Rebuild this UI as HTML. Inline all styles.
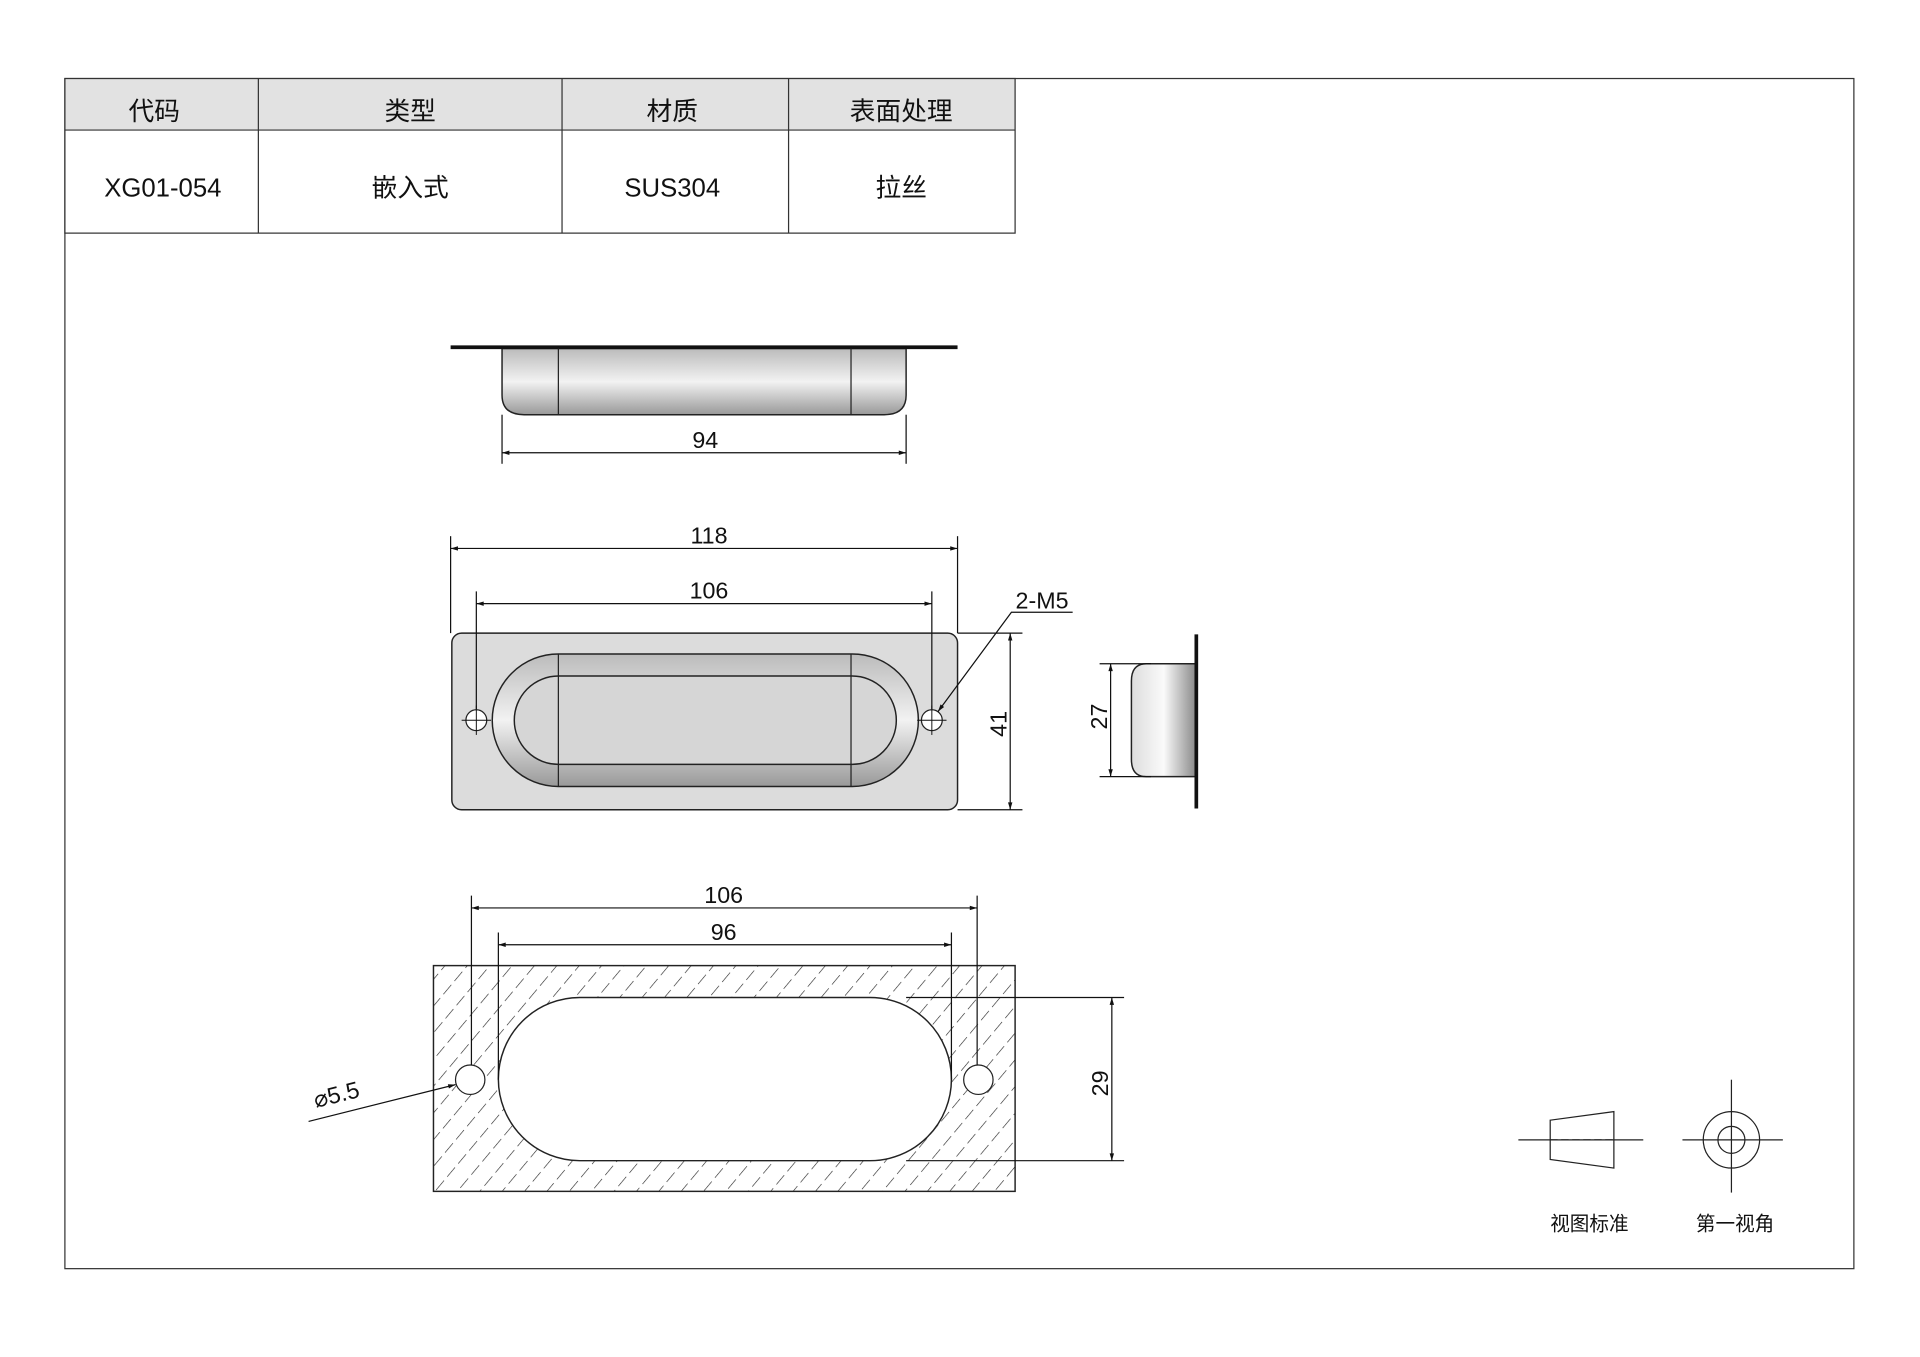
<!DOCTYPE html>
<html><head><meta charset="utf-8">
<style>
html,body{margin:0;padding:0;background:#fff;}
svg{display:block;}
text{font-family:"Liberation Sans","Noto Sans CJK SC",sans-serif;fill:#111;}
</style></head>
<body>
<svg width="1920" height="1357" viewBox="0 0 1568 1106" preserveAspectRatio="none" xmlns="http://www.w3.org/2000/svg">
<defs>
<pattern id="hatch" patternUnits="userSpaceOnUse" width="14" height="14" patternTransform="rotate(40)">
<line x1="0" y1="0" x2="0" y2="14" stroke="#222" stroke-width="1" stroke-dasharray="10 4"/>
</pattern>
<linearGradient id="g1" x1="0" y1="0" x2="0" y2="1">
<stop offset="0" stop-color="#bbb"/><stop offset="0.5" stop-color="#f2f2f2"/><stop offset="1" stop-color="#999"/>
</linearGradient>
<linearGradient id="g2" x1="0" y1="0" x2="1" y2="0">
<stop offset="0" stop-color="#ddd"/><stop offset="0.5" stop-color="#fafafa"/><stop offset="1" stop-color="#888"/>
</linearGradient>
<marker id="a" viewBox="0 0 10 10" refX="10" refY="5" markerWidth="10" markerHeight="6" orient="auto-start-reverse" markerUnits="userSpaceOnUse">
<path d="M0,2 L10,5 L0,8 Z" fill="#111"/></marker>
</defs>
<rect x="0" y="0" width="1568" height="1106" fill="#fff"/>
<rect x="53" y="64" width="1461" height="970" fill="none" stroke="#333" stroke-width="1"/>
<rect x="53" y="64" width="776" height="42" fill="#e2e2e2"/>
<g stroke="#333" stroke-width="1" fill="none">
<rect x="53" y="64" width="776" height="126"/>
<line x1="53" y1="106" x2="829" y2="106"/>
<line x1="211" y1="64" x2="211" y2="190"/>
<line x1="459" y1="64" x2="459" y2="190"/>
<line x1="644" y1="64" x2="644" y2="190"/>
</g>
<g font-size="21" text-anchor="middle">
<text x="126" y="98">代码</text><text x="335" y="98">类型</text><text x="549" y="98">材质</text><text x="736" y="98">表面处理</text>
<text x="133" y="160">XG01-054</text><text x="335" y="160">嵌入式</text><text x="549" y="160">SUS304</text><text x="736" y="160">拉丝</text>
</g>
<path d="M410,284 L740,284 L740,322 Q740,338 722,338 L428,338 Q410,338 410,322 Z" fill="url(#g1)" stroke="#222" stroke-width="1.2"/>
<line x1="368" y1="283" x2="782" y2="283" stroke="#111" stroke-width="3"/>
<line x1="456" y1="284" x2="456" y2="338" stroke="#222"/>
<line x1="695" y1="284" x2="695" y2="338" stroke="#222"/>
<g stroke="#111" stroke-width="1" fill="none">
<line x1="410" y1="338" x2="410" y2="378"/><line x1="740" y1="338" x2="740" y2="378"/>
<line x1="410" y1="369" x2="740" y2="369" marker-start="url(#a)" marker-end="url(#a)"/>
</g>
<text x="576" y="365" font-size="19" text-anchor="middle">94</text>
<rect x="369" y="516" width="413" height="144" rx="8" fill="#dcdcdc" stroke="#222" stroke-width="1.2"/>
<rect x="402" y="533" width="348" height="108" rx="54" fill="url(#g1)" stroke="#222" stroke-width="1.2"/>
<rect x="420" y="551" width="312" height="72" rx="36" fill="#d6d6d6" stroke="#222" stroke-width="1.2"/>
<line x1="456" y1="533" x2="456" y2="641" stroke="#222"/><line x1="695" y1="533" x2="695" y2="641" stroke="#222"/>
<circle cx="389" cy="587" r="8.5" fill="#fff" stroke="#222"/><circle cx="761" cy="587" r="8.5" fill="#fff" stroke="#222"/>
<g stroke="#111" stroke-width="0.8"><line x1="377" y1="587" x2="401" y2="587"/><line x1="389" y1="575" x2="389" y2="599"/><line x1="749" y1="587" x2="773" y2="587"/><line x1="761" y1="575" x2="761" y2="599"/></g>
<g stroke="#111" stroke-width="1" fill="none">
<line x1="368" y1="437" x2="368" y2="516"/><line x1="782" y1="437" x2="782" y2="516"/>
<line x1="368" y1="447" x2="782" y2="447" marker-start="url(#a)" marker-end="url(#a)"/>
<line x1="389" y1="482" x2="389" y2="578"/><line x1="761" y1="482" x2="761" y2="578"/>
<line x1="389" y1="492" x2="761" y2="492" marker-start="url(#a)" marker-end="url(#a)"/>
<line x1="782" y1="516" x2="835" y2="516"/><line x1="782" y1="660" x2="835" y2="660"/>
<line x1="825" y1="516" x2="825" y2="660" marker-start="url(#a)" marker-end="url(#a)"/>
<polyline points="876,499 826,499 766,580" marker-end="url(#a)"/>
</g>
<text x="579" y="443" font-size="19" text-anchor="middle">118</text>
<text x="579" y="488" font-size="19" text-anchor="middle">106</text>
<text x="851" y="496" font-size="19" text-anchor="middle">2-M5</text>
<text x="822" y="590" font-size="19" text-anchor="middle" transform="rotate(-90 822 590)">41</text>
<path d="M977,541 L936,541 Q924,541 924,555 L924,619 Q924,633 936,633 L977,633 Z" fill="url(#g2)" stroke="#222" stroke-width="1.2"/>
<line x1="977" y1="517" x2="977" y2="659" stroke="#111" stroke-width="3"/>
<g stroke="#111" stroke-width="1" fill="none">
<line x1="898" y1="541" x2="940" y2="541"/><line x1="898" y1="633" x2="940" y2="633"/>
<line x1="907" y1="541" x2="907" y2="633" marker-start="url(#a)" marker-end="url(#a)"/>
</g>
<text x="904" y="584" font-size="19" text-anchor="middle" transform="rotate(-90 904 584)">27</text>
<rect x="354" y="787" width="475" height="184" fill="url(#hatch)" stroke="#222" stroke-width="1.2"/>
<rect x="407" y="813" width="370" height="133" rx="66.5" fill="#fff" stroke="#222" stroke-width="1.2"/>
<circle cx="384" cy="880" r="12" fill="#fff" stroke="#222"/><circle cx="799" cy="880" r="12" fill="#fff" stroke="#222"/>
<g stroke="#111" stroke-width="1" fill="none">
<line x1="385" y1="730" x2="385" y2="868"/><line x1="798" y1="730" x2="798" y2="868"/>
<line x1="385" y1="740" x2="798" y2="740" marker-start="url(#a)" marker-end="url(#a)"/>
<line x1="407" y1="760" x2="407" y2="880"/><line x1="777" y1="760" x2="777" y2="880"/>
<line x1="407" y1="770" x2="777" y2="770" marker-start="url(#a)" marker-end="url(#a)"/>
<line x1="740" y1="813" x2="918" y2="813"/><line x1="740" y1="946" x2="918" y2="946"/>
<line x1="908" y1="813" x2="908" y2="946" marker-start="url(#a)" marker-end="url(#a)"/>
<line x1="252" y1="914" x2="372" y2="884" marker-end="url(#a)"/>
</g>
<text x="591" y="736" font-size="19" text-anchor="middle">106</text>
<text x="591" y="766" font-size="19" text-anchor="middle">96</text>
<text x="905" y="883" font-size="19" text-anchor="middle" transform="rotate(-90 905 883)">29</text>
<text x="258" y="903" font-size="19" transform="rotate(-14 258 903)">⌀5.5</text>
<g stroke="#222" stroke-width="1" fill="none">
<line x1="1240" y1="929" x2="1342" y2="929"/>
<path d="M1266,913 L1318,906 L1318,952 L1266,945 Z"/>
<line x1="1266" y1="929" x2="1318" y2="929" stroke-dasharray="6 3"/>
<line x1="1374" y1="929" x2="1456" y2="929"/>
<line x1="1414" y1="880" x2="1414" y2="972"/>
<circle cx="1414" cy="929" r="23"/><circle cx="1414" cy="929" r="11"/>
</g>
<text x="1298" y="1003" font-size="16" text-anchor="middle">视图标准</text>
<text x="1417" y="1003" font-size="16" text-anchor="middle">第一视角</text>
</svg>
</body></html>
